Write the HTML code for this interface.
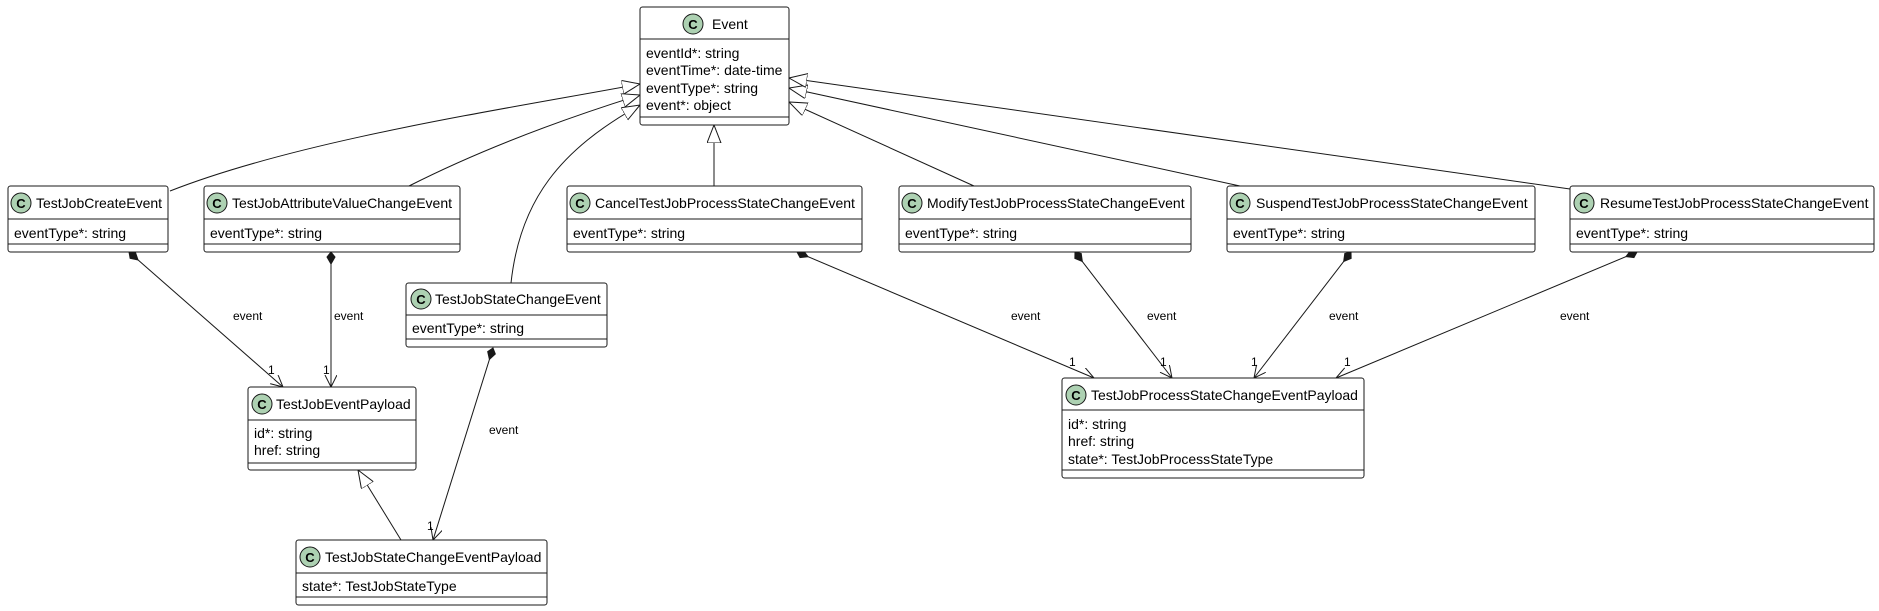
<!DOCTYPE html>
<html><head><meta charset="utf-8"><style>
html,body{margin:0;padding:0;background:#fff;}
svg{display:block;font-family:"Liberation Sans",sans-serif;}
.b{fill:#fff;stroke:#181818;stroke-width:1;}
.d{stroke:#181818;stroke-width:1;}
.c{fill:#ADD1B2;stroke:#181818;stroke-width:1;}
.t{font-size:14px;fill:#000;}
.l{font-size:12px;fill:#000;}
.e{fill:none;stroke:#181818;stroke-width:1;}
</style></head><body>
<svg width="1879" height="611" viewBox="0 0 1879 611" xmlns="http://www.w3.org/2000/svg">
<defs>
<marker id="tri" markerWidth="20" markerHeight="20" refX="18" refY="7" orient="auto" markerUnits="userSpaceOnUse"><path d="M0,0 L18,7 L0,14 Z" fill="#fff" stroke="#181818"/></marker>
<marker id="dia" markerWidth="16" markerHeight="12" refX="1" refY="5" orient="auto" markerUnits="userSpaceOnUse"><path d="M1,5 L6,1 L13,5 L6,9 Z" fill="#181818" stroke="#181818"/></marker>
<marker id="arr" markerWidth="14" markerHeight="14" refX="12" refY="6" orient="auto" markerUnits="userSpaceOnUse"><path d="M0,0 L12,6 L0,12" fill="none" stroke="#181818"/></marker>
</defs>

<!-- generalizations -->
<path class="e" d="M170,191 C300,140 500,110 640,84" marker-end="url(#tri)"/>
<path class="e" d="M409,186 C480,150 560,120 640,95" marker-end="url(#tri)"/>
<path class="e" d="M511,283 C520,200 560,150 640,105" marker-end="url(#tri)"/>
<path class="e" d="M714,186 L714,125" marker-end="url(#tri)"/>
<path class="e" d="M974,186 L789,102" marker-end="url(#tri)"/>
<path class="e" d="M1240,186 L789,88" marker-end="url(#tri)"/>
<path class="e" d="M1570,189 L789,78" marker-end="url(#tri)"/>
<path class="e" d="M401,540 L358,470" marker-end="url(#tri)"/>

<!-- compositions -->
<path class="e" d="M129,252 L283,387" marker-start="url(#dia)" marker-end="url(#arr)"/>
<path class="e" d="M331,252 L331,387" marker-start="url(#dia)" marker-end="url(#arr)"/>
<path class="e" d="M493,348 L433,540" marker-start="url(#dia)" marker-end="url(#arr)"/>
<path class="e" d="M797,252 L1094,378" marker-start="url(#dia)" marker-end="url(#arr)"/>
<path class="e" d="M1075,252 L1172,378" marker-start="url(#dia)" marker-end="url(#arr)"/>
<path class="e" d="M1351,252 L1254,378" marker-start="url(#dia)" marker-end="url(#arr)"/>
<path class="e" d="M1637,252 L1336,378" marker-start="url(#dia)" marker-end="url(#arr)"/>

<g class="l">
<text x="233" y="320">event</text><text x="268" y="374">1</text>
<text x="334" y="320">event</text><text x="323" y="374">1</text>
<text x="489" y="434">event</text><text x="427" y="530">1</text>
<text x="1011" y="320">event</text><text x="1069" y="366">1</text>
<text x="1147" y="320">event</text><text x="1160" y="366">1</text>
<text x="1329" y="320">event</text><text x="1251" y="366">1</text>
<text x="1560" y="320">event</text><text x="1344" y="366">1</text>
</g>

<!-- Event -->
<rect class="b" x="640" y="7" width="149" height="118" rx="2.5"/>
<line class="d" x1="640" y1="39" x2="789" y2="39"/><line class="d" x1="640" y1="117" x2="789" y2="117"/>
<circle class="c" cx="693" cy="24" r="10"/><text x="693" y="29" text-anchor="middle" font-size="13" font-weight="bold">C</text>
<text class="t" x="712" y="29">Event</text>
<text class="t" x="646" y="58">eventId*: string</text>
<text class="t" x="646" y="75">eventTime*: date-time</text>
<text class="t" x="646" y="93">eventType*: string</text>
<text class="t" x="646" y="110">event*: object</text>

<!-- row 1 -->
<g>
<rect class="b" x="8" y="186" width="160" height="66" rx="2.5"/>
<line class="d" x1="8" y1="219" x2="168" y2="219"/><line class="d" x1="8" y1="244" x2="168" y2="244"/>
<circle class="c" cx="21" cy="203" r="10"/><text x="21" y="208" text-anchor="middle" font-size="13" font-weight="bold">C</text>
<text class="t" x="36" y="208">TestJobCreateEvent</text>
<text class="t" x="14" y="238">eventType*: string</text>
</g>
<g>
<rect class="b" x="204" y="186" width="256" height="66" rx="2.5"/>
<line class="d" x1="204" y1="219" x2="460" y2="219"/><line class="d" x1="204" y1="244" x2="460" y2="244"/>
<circle class="c" cx="217" cy="203" r="10"/><text x="217" y="208" text-anchor="middle" font-size="13" font-weight="bold">C</text>
<text class="t" x="232" y="208">TestJobAttributeValueChangeEvent</text>
<text class="t" x="210" y="238">eventType*: string</text>
</g>
<g>
<rect class="b" x="567" y="186" width="295" height="66" rx="2.5"/>
<line class="d" x1="567" y1="219" x2="862" y2="219"/><line class="d" x1="567" y1="244" x2="862" y2="244"/>
<circle class="c" cx="580" cy="203" r="10"/><text x="580" y="208" text-anchor="middle" font-size="13" font-weight="bold">C</text>
<text class="t" x="595" y="208">CancelTestJobProcessStateChangeEvent</text>
<text class="t" x="573" y="238">eventType*: string</text>
</g>
<g>
<rect class="b" x="899" y="186" width="292" height="66" rx="2.5"/>
<line class="d" x1="899" y1="219" x2="1191" y2="219"/><line class="d" x1="899" y1="244" x2="1191" y2="244"/>
<circle class="c" cx="912" cy="203" r="10"/><text x="912" y="208" text-anchor="middle" font-size="13" font-weight="bold">C</text>
<text class="t" x="927" y="208">ModifyTestJobProcessStateChangeEvent</text>
<text class="t" x="905" y="238">eventType*: string</text>
</g>
<g>
<rect class="b" x="1227" y="186" width="308" height="66" rx="2.5"/>
<line class="d" x1="1227" y1="219" x2="1535" y2="219"/><line class="d" x1="1227" y1="244" x2="1535" y2="244"/>
<circle class="c" cx="1240" cy="203" r="10"/><text x="1240" y="208" text-anchor="middle" font-size="13" font-weight="bold">C</text>
<text class="t" x="1256" y="208">SuspendTestJobProcessStateChangeEvent</text>
<text class="t" x="1233" y="238">eventType*: string</text>
</g>
<g>
<rect class="b" x="1570" y="186" width="304" height="66" rx="2.5"/>
<line class="d" x1="1570" y1="219" x2="1874" y2="219"/><line class="d" x1="1570" y1="244" x2="1874" y2="244"/>
<circle class="c" cx="1584" cy="203" r="10"/><text x="1584" y="208" text-anchor="middle" font-size="13" font-weight="bold">C</text>
<text class="t" x="1600" y="208">ResumeTestJobProcessStateChangeEvent</text>
<text class="t" x="1576" y="238">eventType*: string</text>
</g>

<!-- TestJobStateChangeEvent -->
<g>
<rect class="b" x="406" y="283" width="201" height="64" rx="2.5"/>
<line class="d" x1="406" y1="315" x2="607" y2="315"/><line class="d" x1="406" y1="339" x2="607" y2="339"/>
<circle class="c" cx="421" cy="299" r="10"/><text x="421" y="304" text-anchor="middle" font-size="13" font-weight="bold">C</text>
<text class="t" x="435" y="304">TestJobStateChangeEvent</text>
<text class="t" x="412" y="333">eventType*: string</text>
</g>

<!-- TestJobEventPayload -->
<g>
<rect class="b" x="248" y="387" width="168" height="83" rx="2.5"/>
<line class="d" x1="248" y1="420" x2="416" y2="420"/><line class="d" x1="248" y1="463" x2="416" y2="463"/>
<circle class="c" cx="262" cy="404" r="10"/><text x="262" y="409" text-anchor="middle" font-size="13" font-weight="bold">C</text>
<text class="t" x="276" y="409">TestJobEventPayload</text>
<text class="t" x="254" y="438">id*: string</text>
<text class="t" x="254" y="455">href: string</text>
</g>

<!-- TestJobStateChangeEventPayload -->
<g>
<rect class="b" x="296" y="540" width="251" height="65" rx="2.5"/>
<line class="d" x1="296" y1="573" x2="547" y2="573"/><line class="d" x1="296" y1="597" x2="547" y2="597"/>
<circle class="c" cx="310" cy="557" r="10"/><text x="310" y="562" text-anchor="middle" font-size="13" font-weight="bold">C</text>
<text class="t" x="325" y="562">TestJobStateChangeEventPayload</text>
<text class="t" x="302" y="591">state*: TestJobStateType</text>
</g>

<!-- TestJobProcessStateChangeEventPayload -->
<g>
<rect class="b" x="1062" y="378" width="302" height="100" rx="2.5"/>
<line class="d" x1="1062" y1="410" x2="1364" y2="410"/><line class="d" x1="1062" y1="470" x2="1364" y2="470"/>
<circle class="c" cx="1076" cy="395" r="10"/><text x="1076" y="400" text-anchor="middle" font-size="13" font-weight="bold">C</text>
<text class="t" x="1091" y="400">TestJobProcessStateChangeEventPayload</text>
<text class="t" x="1068" y="429">id*: string</text>
<text class="t" x="1068" y="446">href: string</text>
<text class="t" x="1068" y="464">state*: TestJobProcessStateType</text>
</g>
</svg>
</body></html>
